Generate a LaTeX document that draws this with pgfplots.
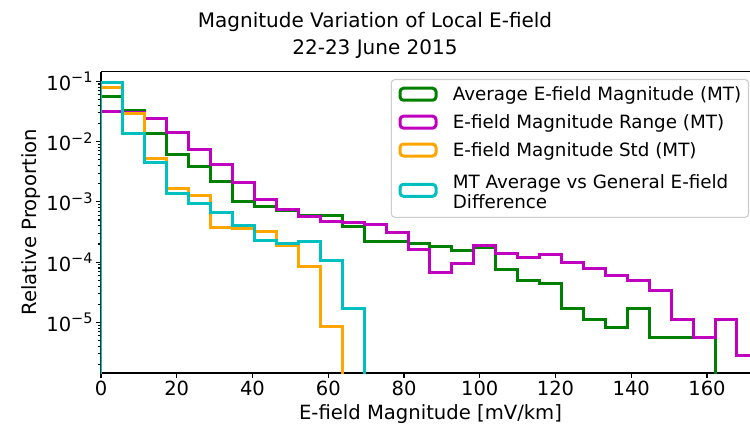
\documentclass[border=0pt]{standalone}
\usepackage{fontspec}
\setmainfont{DejaVu Sans}
\usepackage{pgfplots}
\usepackage{pgfplotstable}
\pgfplotsset{compat=1.18}

\definecolor{mgreen}{rgb}{0,0.5,0}
\definecolor{mmagenta}{rgb}{0.75,0,0.75}
\definecolor{morange}{HTML}{FFA500}
\definecolor{mcyan}{rgb}{0,0.75,0.75}
\definecolor{legframe}{HTML}{CCCCCC}

\newcommand{\tickfont}{\fontsize{19.5bp}{23bp}\selectfont}
\newcommand{\labfont}{\fontsize{19.6bp}{23bp}\selectfont}
\newcommand{\titlefont}{\fontsize{20bp}{27.1bp}\selectfont}
\newcommand{\legfont}{\fontsize{18.3bp}{20.6bp}\selectfont}
\newcommand{\pw}[1]{10\raisebox{7.5bp}{\fontsize{14.5bp}{15bp}\selectfont #1}}

% Step-histogram outlines: left bin edge and bin height (density);
% a tiny value stands for an empty bin so the outline drops off the log axis.
\pgfplotstableread{
x y
0 1e-9
0 0.0553
5.79 0.0324
11.58 0.01368
17.37 0.00614
23.16 0.00382
28.95 0.00215
34.74 0.00103
40.53 0.000830
46.32 0.000712
52.11 0.000604
57.90 0.000585
63.69 0.000386
69.48 0.000224
75.27 0.000224
81.06 0.000205
86.85 0.000180
92.64 0.000153
98.43 0.000173
104.22 7.69e-5
110.01 5.05e-5
115.80 4.45e-5
121.59 1.67e-5
127.38 1.10e-5
133.17 8.29e-6
138.96 1.67e-5
144.75 5.57e-6
150.54 5.57e-6
156.33 5.57e-6
162.12 1e-9
}\avgtab

\pgfplotstableread{
x y
0 1e-9
0 0.0312
5.79 0.0305
11.58 0.0243
17.37 0.0140
23.16 0.00743
28.95 0.00416
34.74 0.00213
40.53 0.00111
46.32 0.00076
52.11 0.000566
57.90 0.000468
63.69 0.000450
69.48 0.000424
75.27 0.000312
81.06 0.000159
86.85 6.85e-5
92.64 9.55e-5
98.43 0.000192
104.22 0.000140
110.01 0.000120
115.80 0.000135
121.59 9.85e-5
127.38 7.98e-5
133.17 6.11e-5
138.96 5.05e-5
144.75 3.32e-5
150.54 1.10e-5
156.33 5.57e-6
162.12 1.10e-5
167.91 2.80e-6
173.70 1e-9
}\rangetab

\pgfplotstableread{
x y
0 1e-9
0 0.0792
5.79 0.0294
11.58 0.00527
17.37 0.00169
23.16 0.00125
28.95 0.000382
34.74 0.000368
40.53 0.000319
46.32 0.000192
52.11 8.39e-5
57.90 8.49e-6
63.69 1e-9
}\stdtab

\pgfplotstableread{
x y
0 1e-9
0 0.0944
5.79 0.0137
11.58 0.00445
17.37 0.00137
23.16 0.000945
28.95 0.000673
34.74 0.000405
40.53 0.000232
46.32 0.000200
52.11 0.000224
57.90 0.000108
63.69 1.71e-5
69.48 1e-9
}\difftab

\begin{document}
\begin{tikzpicture}
\useasboundingbox (-101bp,-61bp) rectangle (649bp,373bp);
\begin{axis}[
  at={(0,0)}, anchor=south west,
  scale only axis, width=649bp, height=301.3bp,
  ymode=log,
  xmin=0, xmax=171.35, ymin=1.449e-6, ymax=0.1439,
  axis x line*=box, axis y line*=left,
  axis line style={line width=1.1bp, black, -},
  tick pos=left, tick align=outside,
  major tick length=4.9bp, minor tick length=2.8bp,
  every tick/.style={black, line width=1.1bp},
  xtick={0,20,...,160},
  ytick={1e-5,1e-4,1e-3,1e-2,1e-1},
  yticklabels={\pw{−5},\pw{−4},\pw{−3},\pw{−2},\pw{−1}},
  minor ytick={2e-6,3e-6,4e-6,5e-6,6e-6,7e-6,8e-6,9e-6,
    2e-5,3e-5,4e-5,5e-5,6e-5,7e-5,8e-5,9e-5,
    2e-4,3e-4,4e-4,5e-4,6e-4,7e-4,8e-4,9e-4,
    2e-3,3e-3,4e-3,5e-3,6e-3,7e-3,8e-3,9e-3,
    2e-2,3e-2,4e-2,5e-2,6e-2,7e-2,8e-2,9e-2},
  tick label style={font=\tickfont},
  /pgf/number format/assume math mode=true,
  title={Magnitude Variation of Local E-field\\22-23 June 2015},
  title style={at={(axis description cs:0.4222,1)}, anchor=south,
    yshift=7bp, align=center, font=\titlefont, inner sep=0pt},
  xlabel={E-field Magnitude [mV/km]},
  xlabel style={at={(axis description cs:0.5077,0)}, anchor=base,
    yshift=-46bp, font=\labfont, inner sep=0pt},
  ylabel={Relative Proportion},
  ylabel style={at={(axis description cs:-0.0991,0.5)}, anchor=base,
    font=\labfont, inner sep=0pt},
  legend image code/.code={\draw[#1, line width=3bp] (0bp,-6bp) rectangle (36bp,6bp);},
  legend style={at={(axis description cs:0.9985,0.9758)}, anchor=north east,
    draw=legframe, line width=1.1bp, rounded corners=3.5bp, fill=white,
    font=\legfont, inner xsep=7.2bp, inner ysep=7bp,
    row sep=12.5bp, column sep=15.3bp,
    nodes={inner sep=0pt}, cells={anchor=west, align=left}},
  legend cell align=left,
  every axis plot/.append style={line width=3bp, const plot mark left, mark=none},
]
\addplot[mgreen] table[x=x, y=y] {\avgtab};
\addlegendentry{Average E-field Magnitude (MT)}
\addplot[mmagenta] table[x=x, y=y] {\rangetab};
\addlegendentry{E-field Magnitude Range (MT)}
\addplot[morange] table[x=x, y=y] {\stdtab};
\addlegendentry{E-field Magnitude Std (MT)}
\addplot[mcyan] table[x=x, y=y] {\difftab};
\addlegendentry{\rule{0pt}{18bp}MT Average vs General E-field\\Difference}
\end{axis}
\end{tikzpicture}
\end{document}
